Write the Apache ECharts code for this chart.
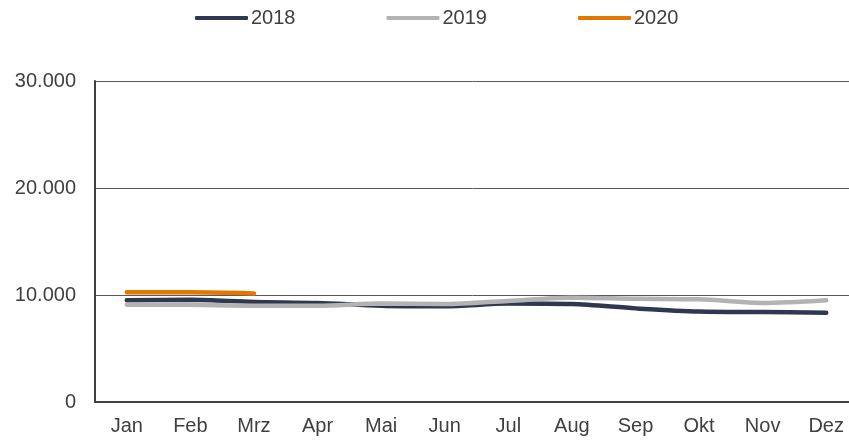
<!DOCTYPE html>
<html>
<head>
<meta charset="utf-8">
<script src="https://cdn.jsdelivr.net/npm/echarts@6/dist/echarts.min.js"></script>
<style>
  html, body { margin: 0; padding: 0; background: #fff; }
  #chart { width: 849px; height: 442px; }
</style>
</head>
<body>
<div id="chart"></div>
<script>
const months = ['Jan', 'Feb', 'Mrz', 'Apr', 'Mai', 'Jun', 'Jul', 'Aug', 'Sep', 'Okt', 'Nov', 'Dez']
const values2018 = [9500, 9550, 9350, 9250, 9000, 8950, 9200, 9150, 8750, 8450, 8400, 8350]
const values2019 = [9100, 9080, 9000, 9000, 9200, 9150, 9450, 9750, 9650, 9600, 9250, 9500]
const values2020 = [10250, 10250, 10150]
const yTicks = [0, 10000, 20000, 30000]

const fmt = v => String(v).replace(/\B(?=(\d{3})+(?!\d))/g, '.')

const lineSeries = (name, data, color) => ({
  name: name,
  type: 'line',
  data: data,
  smooth: 0.3,
  symbol: 'none',
  lineStyle: { color: color, width: 4.5, cap: 'round' },
  itemStyle: { color: color }
})

let chart = echarts.init(document.getElementById('chart'))
chart.setOption({
  animation: false,
  textStyle: { fontFamily: 'Liberation Sans, Arial, sans-serif' },
  legend: {
    top: 8,
    left: 195,
    padding: 0,
    itemWidth: 53,
    itemHeight: 4,
    itemGap: 91,
    icon: 'roundRect',
    textStyle: { fontSize: 20, color: '#404040', padding: [0, 0, 0, -2] },
    data: ['2018', '2019', '2020']
  },
  grid: { left: 95, width: 763, top: 81, bottom: 40, containLabel: false, outerBoundsMode: 'none' },
  xAxis: {
    type: 'category',
    data: months,
    boundaryGap: true,
    axisLine: { lineStyle: { color: '#404040', width: 2 } },
    axisTick: { show: false },
    axisLabel: { fontSize: 20, color: '#404040', margin: 14 }
  },
  yAxis: {
    type: 'value',
    min: yTicks[0],
    max: yTicks[yTicks.length - 1],
    interval: 10000,
    axisLine: { show: true, lineStyle: { color: '#404040', width: 2 } },
    axisTick: { show: false },
    axisLabel: { fontSize: 20, color: '#404040', margin: 19, formatter: fmt },
    splitLine: { lineStyle: { color: '#595959', width: 1 } }
  },
  series: [
    lineSeries('2018', values2018, '#2e3951'),
    lineSeries('2019', values2019, '#b3b3b3'),
    lineSeries('2020', values2020, '#e37800')
  ]
})
</script>
</body>
</html>
